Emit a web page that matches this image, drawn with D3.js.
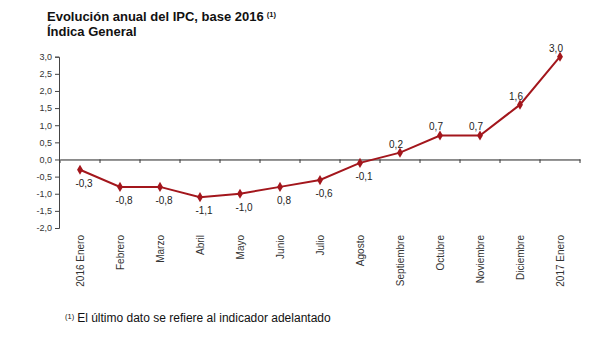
<!DOCTYPE html>
<html><head><meta charset="utf-8">
<script src="https://cdn.jsdelivr.net/npm/d3@7"></script>
<style>body{margin:0;background:#fff;} svg{display:block;}</style>
</head><body>
<svg id="chart" width="600" height="349"></svg>
<script>
const categories = ["2016 Enero","Febrero","Marzo","Abril","Mayo","Junio","Julio","Agosto","Septiembre","Octubre","Noviembre","Diciembre","2017 Enero"];
const values = [-0.3,-0.8,-0.8,-1.1,-1.0,-0.8,-0.6,-0.1,0.2,0.7,0.7,1.6,3.0];
const pointLabels = ["-0,3","-0,8","-0,8","-1,1","-1,0","0,8","-0,6","-0,1","0,2","0,7","0,7","1,6","3,0"];
const yTicks = [-2.0,-1.5,-1.0,-0.5,0.0,0.5,1.0,1.5,2.0,2.5,3.0];
const title1 = "Evolución anual del IPC, base 2016";
const title2 = "Índica General";
const footnote = "El último dato se refiere al indicador adelantado";

const svg = d3.select("#chart");
const font = "'Liberation Sans', Arial, sans-serif";
const red = "#a3161c";

const x = d3.scaleBand().domain(categories).range([60, 580]);
const y = d3.scaleLinear().domain([-2, 3]).range([228, 56.7]);

// title
const t1 = svg.append("text").attr("x", 47).attr("y", 21).attr("font-family", font)
  .attr("font-weight", "bold").attr("font-size", 13).attr("fill", "#111").text(title1);
t1.append("tspan").attr("dx", 3).attr("dy", -4).attr("font-size", 7.5).text("(1)");
svg.append("text").attr("x", 47).attr("y", 36).attr("font-family", font)
  .attr("font-weight", "bold").attr("font-size", 13).attr("fill", "#111").text(title2);

// y axis
const yAxis = svg.append("g").attr("transform", "translate(59,0)")
  .call(d3.axisLeft(y).tickValues(yTicks).tickSize(4).tickSizeOuter(4)
    .tickFormat(d => d3.format(".1f")(d).replace(".", ",").replace("−","-")));
yAxis.select(".domain").attr("stroke", "#444");
yAxis.selectAll(".tick line").attr("stroke", "#444");
yAxis.selectAll(".tick text").attr("font-family", font).attr("font-size", 9).attr("fill", "#333").attr("x", -7);

// x axis at zero
const xAxis = svg.append("g").attr("transform", `translate(0,${y(0)})`)
  .call(d3.axisBottom(x).tickSize(0).tickFormat(""));
xAxis.select(".domain").attr("stroke", "#222");
// boundary ticks
const bounds = categories.map(c => x(c)).concat([x.range()[1]]);
xAxis.selectAll(".bt").data(bounds).enter().append("line").attr("class","bt")
  .attr("x1", d => d).attr("x2", d => d).attr("y1", 0).attr("y2", 3.5).attr("stroke", "#333");

// category labels rotated
svg.append("g").selectAll("text").data(categories).enter().append("text")
  .attr("transform", d => `translate(${x(d) + x.bandwidth()/2 + 3.5},235) rotate(-90)`)
  .attr("text-anchor", "end").attr("font-family", font).attr("font-size", 10).attr("fill", "#333")
  .text(d => d);

// line
const line = d3.line().x((d, i) => x(categories[i]) + x.bandwidth()/2).y(d => y(d));
svg.append("path").datum(values).attr("d", line).attr("fill", "none").attr("stroke", red).attr("stroke-width", 2);

// markers
svg.append("g").selectAll("path").data(values).enter().append("path")
  .attr("d", d3.symbol().type(d3.symbolDiamond).size(30))
  .attr("transform", (d, i) => `translate(${x(categories[i]) + x.bandwidth()/2},${y(d)})`)
  .attr("fill", red);

// value labels
svg.append("g").selectAll("text").data(values).enter().append("text")
  .attr("x", (d, i) => x(categories[i]) + x.bandwidth()/2 + (d < 0 ? 4 : -4))
  .attr("y", d => y(d) + (d < 0 ? 17 : -5))
  .attr("text-anchor", "middle").attr("font-family", font).attr("font-size", 10).attr("fill", "#222")
  .text((d, i) => pointLabels[i]);

// footnote
const fn = svg.append("text").attr("x", 65).attr("y", 322).attr("font-family", font)
  .attr("font-size", 12).attr("fill", "#111");
fn.append("tspan").attr("font-size", 7.5).attr("dy", -3).text("(1)");
fn.append("tspan").attr("dx", 3).attr("dy", 3).text(footnote);
</script>
</body></html>
